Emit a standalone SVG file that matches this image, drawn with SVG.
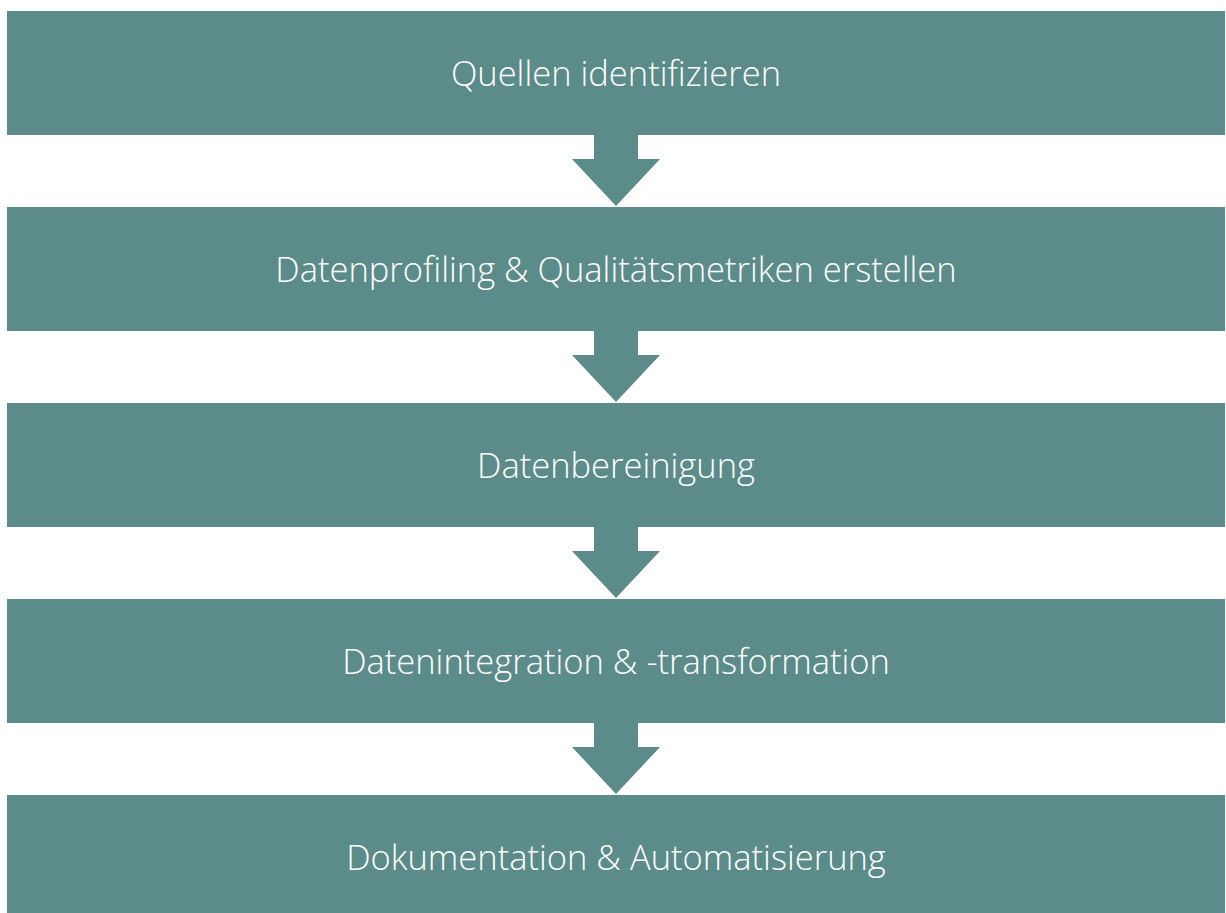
<svg xmlns="http://www.w3.org/2000/svg" width="1226" height="913" viewBox="0 0 1226 913">
<style>
.box{fill:#5B8C8A}
.arr{fill:#5B8C8A}
.lbl{font-family:"Open Sans","Segoe UI",sans-serif;font-weight:300;font-size:34.5px;fill:#ffffff;text-anchor:middle;dominant-baseline:central}
</style>
<rect width="1226" height="913" fill="#ffffff"/>
<g id="connectors">
<polygon class="arr" points="594,135 638,135 638,159 660,159 616,206 572,159 594,159"/>
<polygon class="arr" points="594,331 638,331 638,355 660,355 616,402 572,355 594,355"/>
<polygon class="arr" points="594,527 638,527 638,551 660,551 616,598 572,551 594,551"/>
<polygon class="arr" points="594,723 638,723 638,747 660,747 616,794 572,747 594,747"/>
</g>
<g id="n1"><rect class="box" x="7" y="11" width="1218" height="124"/><text class="lbl" x="616" y="72">Quellen identifizieren</text></g>
<g id="n2"><rect class="box" x="7" y="207" width="1218" height="124"/><text class="lbl" x="616" y="268">Datenprofiling &amp; Qualitätsmetriken erstellen</text></g>
<g id="n3"><rect class="box" x="7" y="403" width="1218" height="124"/><text class="lbl" x="616" y="464">Datenbereinigung</text></g>
<g id="n4"><rect class="box" x="7" y="599" width="1218" height="124"/><text class="lbl" x="616" y="660">Datenintegration &amp; -transformation</text></g>
<g id="n5"><rect class="box" x="7" y="795" width="1218" height="124"/><text class="lbl" x="616" y="856">Dokumentation &amp; Automatisierung</text></g>
</svg>
